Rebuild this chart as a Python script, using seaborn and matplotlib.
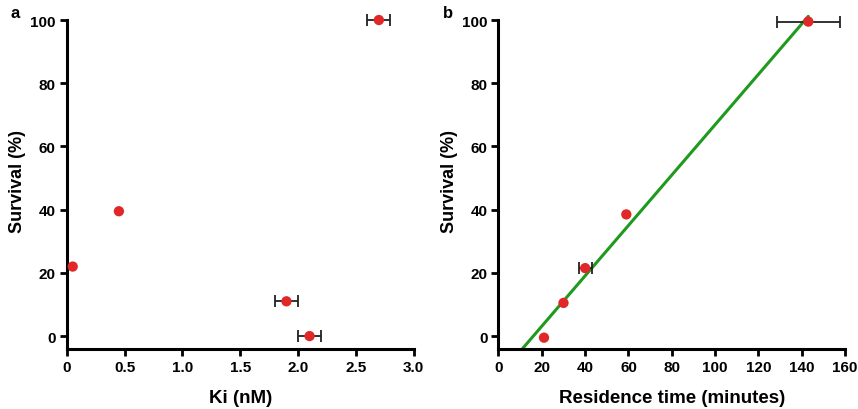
import numpy as np
import pandas as pd
import matplotlib
matplotlib.use("Agg")
import matplotlib.pyplot as plt
import seaborn as sns

# --- Data ---
ki = [0.05, 0.45, 1.9, 2.1, 2.7]
ki_err = [0.0, 0.0, 0.1, 0.1, 0.1]
surv_a = [22.0, 39.5, 11.0, 0.0, 100.0]

res_time = [21, 30, 40, 59, 143]
res_err = [0, 0, 3, 0, 14.5]
surv_b = [-0.5, 10.5, 21.5, 38.5, 99.5]

df_a = pd.DataFrame({"ki": ki, "err": ki_err, "surv": surv_a})
df_b = pd.DataFrame({"t": res_time, "err": res_err, "surv": surv_b})

sns.set_style("ticks")
plt.rcParams['font.family'] = ['Liberation Sans', 'DejaVu Sans']
plt.rcParams['font.weight'] = 'bold'
plt.rcParams['axes.labelweight'] = 'bold'
plt.rcParams['text.color'] = 'black'
plt.rcParams['axes.labelcolor'] = 'black'
plt.rcParams['xtick.color'] = 'black'
plt.rcParams['ytick.color'] = 'black'
plt.rcParams['axes.edgecolor'] = 'black'

RED = "#e02828"
GREEN = "#1f9a1f"

fig = plt.figure(figsize=(8.58, 4.10), dpi=100)
ax1 = fig.add_axes([0.078, 0.147, 0.404, 0.821])
ax2 = fig.add_axes([0.581, 0.147, 0.404, 0.821])


def style(ax):
    sns.despine(ax=ax)
    for s in ["left", "bottom"]:
        ax.spines[s].set_linewidth(2.2)
    ax.spines["left"].set_bounds(-4, 100)
    ax.tick_params(width=2, length=5, labelsize=11, direction="out", pad=3)
    for lab in ax.get_xticklabels() + ax.get_yticklabels():
        lab.set_fontweight("bold")
    ax.set_ylabel("Survival (%)", fontsize=13, fontweight="bold", labelpad=3)
    ax.set_ylim(-4, 102.5)
    ax.set_yticks([0, 20, 40, 60, 80, 100])


# panel a
e = df_a[df_a.err > 0]
ax1.errorbar(e.ki, e.surv, xerr=e.err, fmt="none", ecolor="#222222",
             elinewidth=1.3, capsize=4, capthick=1.3, zorder=2)
sns.scatterplot(data=df_a, x="ki", y="surv", color=RED, s=55, edgecolor="none",
                ax=ax1, zorder=3)
ax1.set_xlim(0, 3.0)
ax1.set_xticks(np.arange(0, 3.01, 0.5))
ax1.set_xticklabels(["0", "0.5", "1.0", "1.5", "2.0", "2.5", "3.0"])
ax1.set_xlabel("Ki (nM)", fontsize=13.5, fontweight="bold", labelpad=11)
style(ax1)

# panel b
slope, icpt = np.polyfit(df_b.t, df_b.surv, 1)
xfit = np.linspace(0, max(res_time), 200)
sns.lineplot(x=xfit, y=slope * xfit + icpt, color=GREEN, lw=2.2, ax=ax2, zorder=1)
e = df_b[df_b.err > 0]
ax2.errorbar(e.t, e.surv, xerr=e.err, fmt="none", ecolor="#222222",
             elinewidth=1.3, capsize=4, capthick=1.3, zorder=2)
sns.scatterplot(data=df_b, x="t", y="surv", color=RED, s=55, edgecolor="none",
                ax=ax2, zorder=3)
ax2.set_xlim(0, 160)
ax2.set_xticks(range(0, 161, 20))
ax2.set_xlabel("Residence time (minutes)", fontsize=13.5, fontweight="bold", labelpad=11)
style(ax2)

fig.text(0.012, 0.955, "a", fontsize=12, fontweight="bold")
fig.text(0.516, 0.955, "b", fontsize=12, fontweight="bold")

fig.savefig("out.png", dpi=100)
